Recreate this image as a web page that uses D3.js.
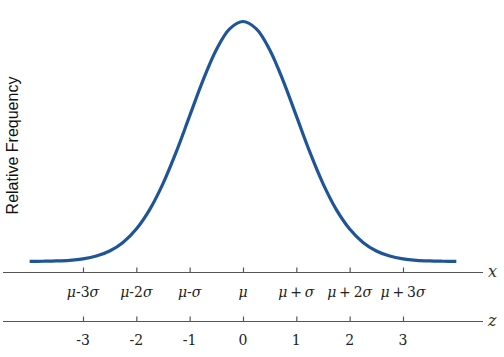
<!DOCTYPE html>
<html><head><meta charset="utf-8">
<script src="https://cdn.jsdelivr.net/npm/d3@7"></script>
<style>body{margin:0;background:#fff} .ser{font-family:"DejaVu Serif","Liberation Serif",serif;}</style>
</head><body>
<svg id="c" width="504" height="357"></svg>
<script>
const zValues = [-4,-3.75,-3.5,-3.25,-3,-2.75,-2.5,-2.25,-2,-1.75,-1.5,-1.25,-1,-0.75,-0.5,-0.25,0,0.25,0.5,0.75,1,1.25,1.5,1.75,2,2.25,2.5,2.75,3,3.25,3.5,3.75,4];
const density = [0.0001,0.0004,0.0009,0.0020,0.0044,0.0091,0.0175,0.0317,0.0540,0.0863,0.1295,0.1826,0.2420,0.3011,0.3521,0.3867,0.3989,0.3867,0.3521,0.3011,0.2420,0.1826,0.1295,0.0863,0.0540,0.0317,0.0175,0.0091,0.0044,0.0020,0.0009,0.0004,0.0001];
const ticks = [-3,-2,-1,0,1,2,3];
const xTickLabels = [
  [["μ","i"],["-3",""],["σ","i"]],
  [["μ","i"],["-2",""],["σ","i"]],
  [["μ","i"],["-",""],["σ","i"]],
  [["μ","i"]],
  [["μ","i"],["\u2009+\u2009",""],["σ","i"]],
  [["μ","i"],["\u2009+\u20092",""],["σ","i"]],
  [["μ","i"],["\u2009+\u20093",""],["σ","i"]]
];
const zTickLabels = ["-3","-2","-1","0","1","2","3"];

const svg = d3.select("#c");
const x = d3.scaleLinear().domain([-3,3]).range([83,403]);
const y = d3.scaleLinear().domain([0,0.3989]).range([261.5,21.5]);

function drawAxis(yPos, name, labels, labelY){
  svg.append("line").attr("x1",3).attr("x2",483).attr("y1",yPos).attr("y2",yPos)
    .attr("stroke","#555").attr("stroke-width",1.2);
  const g = svg.append("g").attr("transform",`translate(0,${yPos})`);
  const ax = d3.axisTop(x).tickValues(ticks).tickSize(5).tickFormat("");
  g.call(ax);
  g.select(".domain").remove();
  g.selectAll(".tick line").attr("stroke","#555").attr("stroke-width",1.2);
  svg.append("text").attr("class","ser").attr("x",488).attr("y",yPos+4)
    .attr("font-style","italic").attr("font-size",16).attr("fill","#333").text(name);
  ticks.forEach((t,i)=>{
    const tx = svg.append("text").attr("class","ser").attr("x",x(t)).attr("y",labelY).attr("text-anchor","middle")
      .attr("font-size",14).attr("fill","#222");
    const parts = labels[i];
    if (typeof parts === "string") tx.text(parts);
    else parts.forEach(p=>{
      tx.append("tspan").attr("font-style",p[1]==="i"?"italic":"normal").text(p[0]);
    });
  });
}
drawAxis(272.5, "x", xTickLabels, 297);
drawAxis(321.5, "z", zTickLabels, 345);

const pts = zValues.map((z,i)=>[z,density[i]]);
svg.append("path").datum(pts)
  .attr("d", d3.line().x(d=>x(d[0])).y(d=>y(d[1])).curve(d3.curveCatmullRom))
  .attr("fill","none").attr("stroke","#1f5597").attr("stroke-width",3.2);

svg.append("text").attr("transform","translate(18,145.5) rotate(-90)")
  .attr("text-anchor","middle").attr("font-family","Liberation Sans, Arial, sans-serif")
  .attr("font-size",16).attr("fill","#111").text("Relative Frequency");
</script>
</body></html>
